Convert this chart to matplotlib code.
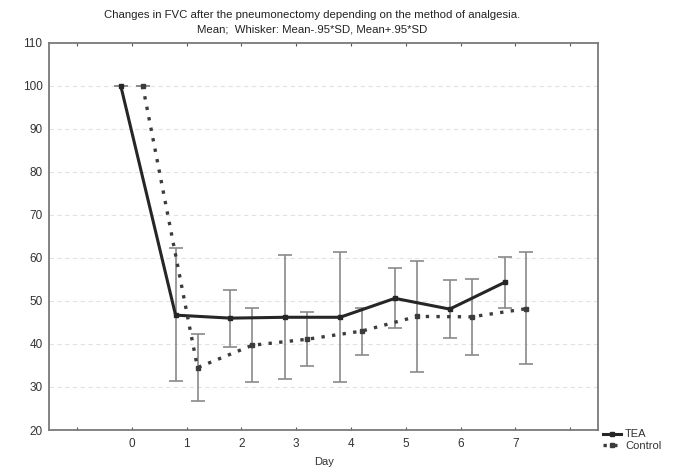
import numpy as np
import matplotlib
matplotlib.use("Agg")
import matplotlib.pyplot as plt

plt.rcParams['font.family'] = ['Liberation Sans', 'DejaVu Sans']

days = [0, 1, 2, 3, 4, 5, 6, 7]

# TEA: mean, whisker low, whisker high
tea_mean = [100, 46.7, 46.0, 46.2, 46.2, 50.6, 48.1, 54.3]
tea_low = [100, 31.4, 39.3, 31.9, 31.2, 43.6, 41.4, 48.4]
tea_high = [100, 62.3, 52.6, 60.6, 61.3, 57.7, 54.9, 60.2]

# Control
ctl_mean = [100, 34.5, 39.7, 41.1, 43.0, 46.4, 46.3, 48.2]
ctl_low = [100, 26.7, 31.2, 34.8, 37.4, 33.5, 37.5, 35.4]
ctl_high = [100, 42.3, 48.3, 47.5, 48.4, 59.2, 55.0, 61.3]

offset = 0.2  # groups shifted apart a little, like the original

fig = plt.figure(figsize=(6.75, 4.71), dpi=100)
ax = fig.add_axes([0.0733, 0.087, 0.8122, 0.8223])

x = np.array(days)
xt = x - offset
xc = x + offset
tm, tl, th = map(np.array, (tea_mean, tea_low, tea_high))
cm, cl, ch = map(np.array, (ctl_mean, ctl_low, ctl_high))

eb = dict(fmt='none', ecolor='#8a8a8a', elinewidth=1.2, capsize=5, capthick=1.2, zorder=2)
ax.errorbar(xt, tm, yerr=[tm - tl, th - tm], **eb)
ax.errorbar(xc, cm, yerr=[cm - cl, ch - cm], **eb)

ax.plot(xt, tm, color='#262626', lw=2.2, ls='-', marker='s', ms=3.5, zorder=3, label='TEA')
ax.plot(xc, cm, color='#3c3c3c', lw=2.4, ls=(0, (1, 2.2)), marker='s', ms=3.5, zorder=3, label='Control')

ax.set_xlim(-1.5, 8.5)
ax.set_ylim(20, 110)
ax.set_xticks(range(-1, 9))
ax.set_xticklabels([''] + [str(d) for d in days] + [''])
ax.set_yticks(range(20, 111, 10))
ax.yaxis.grid(True, color='#e2e2e2', ls=(0, (4, 3)), lw=0.8)
ax.set_axisbelow(True)

ax.tick_params(axis='x', direction='in', length=2.5, top=True, colors='#555555',
               labelcolor='#333333', labelsize=8.5, pad=6)
ax.tick_params(axis='y', length=0, labelcolor='#333333', labelsize=8.5, pad=5)
for s in ax.spines.values():
    s.set_color('#7a7a7a')
    s.set_linewidth(1.3)

ax.set_xlabel('Day', fontsize=8, color='#333333', labelpad=5)
fig.suptitle('Changes in FVC after the pneumonectomy depending on the method of analgesia.\n'
             'Mean;  Whisker: Mean-.95*SD, Mean+.95*SD',
             fontsize=8.2, color='#222222', x=0.462, y=0.978, linespacing=1.55)

fig.legend(loc='upper left', bbox_to_anchor=(0.885, 0.1), frameon=False,
           fontsize=8, handlelength=1.6, handletextpad=0.4, borderpad=0,
           labelspacing=0.1, markerscale=0.8, labelcolor='#333333')

fig.savefig('out.png', dpi=100)
